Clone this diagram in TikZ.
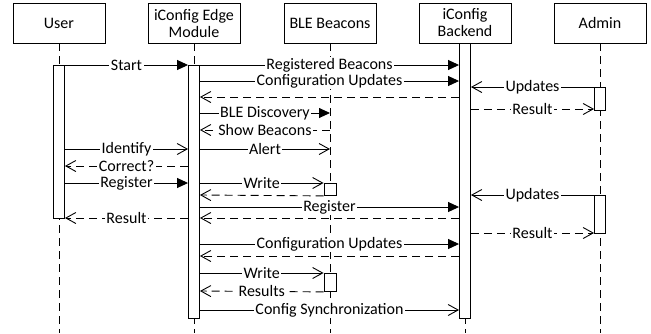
\documentclass[tikz,border=0pt]{standalone}
\usepackage{fontspec}
\setmainfont{Carlito}
\usetikzlibrary{arrows.meta,positioning}

\tikzset{
  actor/.style={draw, minimum width=92pt, minimum height=40pt, align=center, inner sep=1pt},
  bar/.style={draw, fill=white, minimum width=11pt, inner sep=0pt, anchor=north},
  life/.style={dash pattern=on 8pt off 5pt},
  call/.style={-{Triangle[length=11pt,width=10pt]}},
  sig/.style={-{Straight Barb[length=10pt,width=11pt]}},
  ret/.style={sig, dash pattern=on 8pt off 5pt},
  lbl/.style={fill=white, inner sep=1.5pt, midway}
}

\begin{document}
\begin{tikzpicture}[x=1pt, y=-1pt, line width=0.9pt,
  font=\fontsize{16}{17}\selectfont]
\useasboundingbox (0,0) rectangle (651,333);

% heads
\node[actor] (user) at (59,23) {User};
\node[actor] (edge) at (194,23) {iConfig Edge\\Module};
\node[actor] (ble) at (330,23) {BLE Beacons};
\node[actor] (backend) at (465,23) {iConfig\\Backend};
\node[actor] (admin) at (600,23) {Admin};

% message rows
\foreach \n/\y in {r1/65, r2/81, r3/87, r4/97, r5/109, r6/113, r7/130,
  r8/149, r9/166, r10/183, r11/195, r12/207, r13/218, r14/233, r15/244,
  r16/256, r17/273, r18/291, r19/310, bottom/333}
  \coordinate (\n) at (0,\y);

% lifelines
\foreach \a in {user,edge,ble,backend,admin}
  \draw[life] (\a.south) -- (\a.south |- bottom);

% activations
\node[bar, minimum height=153pt] (userbar) at (user.south |- r1) {};
\node[bar, minimum height=253pt] (edgebar) at (edge.south |- r1) {};
\node[bar, minimum height=275pt] (backbar) at (backend.south) {};
\node[bar, minimum height=23pt] (adminbar) at (admin.south |- r3) {};
\node[bar, minimum height=38pt] (adminbar2) at (admin.south |- r11) {};
\node[bar, minimum width=12pt, minimum height=12pt] (blebar) at (ble.south |- r10) {};
\node[bar, minimum width=12pt, minimum height=18pt] (blebar2) at (ble.south |- r17) {};

% messages
\draw[call] (userbar.east |- r1) -- (edgebar.west |- r1) node[lbl] {Start};
\draw[call] (edgebar.east |- r1) -- (backbar.west |- r1) node[lbl] {Registered Beacons};
\draw[call] (edgebar.east |- r2) -- (backbar.west |- r2) node[lbl] {Configuration Updates};
\draw[sig] (adminbar.west |- r3) -- (backbar.east |- r3) node[lbl] {Updates};
\draw[ret] (backbar.west |- r4) -- (edgebar.east |- r4);
\draw[ret] (backbar.east |- r5) -- (adminbar.west |- r5) node[lbl] {Result};
\draw[call] (edgebar.east |- r6) -- (ble.south |- r6) node[lbl] {BLE Discovery};
\draw[ret] (ble.south |- r7) -- (edgebar.east |- r7) node[lbl] {Show Beacons};
\draw[sig] (userbar.east |- r8) -- (edgebar.west |- r8) node[lbl] {Identify};
\draw[sig] (edgebar.east |- r8) -- (ble.south |- r8) node[lbl] {Alert};
\draw[ret] (edgebar.west |- r9) -- (userbar.east |- r9) node[lbl] {Correct?};
\draw[call] (userbar.east |- r10) -- (edgebar.west |- r10) node[lbl] {Register};
\draw[sig] (edgebar.east |- r10) -- (blebar.west |- r10) node[lbl] {Write};
\draw[ret] (blebar.south west) -- (edgebar.east |- r11);
\draw[sig] (adminbar2.west |- r11) -- (backbar.east |- r11) node[lbl] {Updates};
\draw[call] (edgebar.east |- r12) -- (backbar.west |- r12) node[lbl] {Register};
\draw[ret] (backbar.west |- r13) -- (edgebar.east |- r13);
\draw[ret] (edgebar.west |- r13) -- (userbar.east |- r13) node[lbl] {Result};
\draw[ret] (backbar.east |- r14) -- (adminbar2.west |- r14) node[lbl] {Result};
\draw[call] (edgebar.east |- r15) -- (backbar.west |- r15) node[lbl] {Configuration Updates};
\draw[ret] (backbar.west |- r16) -- (edgebar.east |- r16);
\draw[sig] (edgebar.east |- r17) -- (blebar2.west |- r17) node[lbl] {Write};
\draw[ret] (blebar2.south west) -- (edgebar.east |- r18) node[lbl] {Results};
\draw[sig] (edgebar.east |- r19) -- (backbar.west |- r19) node[lbl] {Config Synchronization};
\end{tikzpicture}
\end{document}
